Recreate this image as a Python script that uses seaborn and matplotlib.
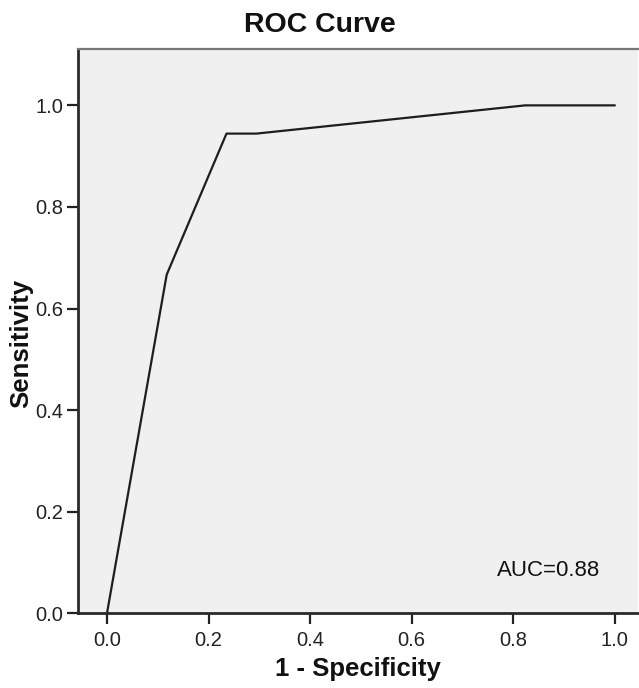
import matplotlib
matplotlib.use("Agg")
import matplotlib.pyplot as plt
import seaborn as sns
import pandas as pd

# ROC points
fpr = [0.0, 0.1176, 0.2353, 0.2941, 0.8235, 1.0]
tpr = [0.0, 0.6667, 0.9444, 0.9444, 1.0, 1.0]
x_ticks = [0.0, 0.2, 0.4, 0.6, 0.8, 1.0]
y_ticks = [0.0, 0.2, 0.4, 0.6, 0.8, 1.0]
title = "ROC Curve"
x_label = "1 - Specificity"
y_label = "Sensitivity"
auc_text = "AUC=0.88"

sns.set_theme(style="white")
plt.rcParams['font.family'] = ['Liberation Sans', 'DejaVu Sans']

df = pd.DataFrame({"fpr": fpr, "tpr": tpr})

fig = plt.figure(figsize=(6.39, 6.88), dpi=100)
ax = fig.add_axes([0.1225, 0.1086, 0.8755, 0.8202])
ax.set_facecolor("#f0f0f0")

sns.lineplot(data=df, x="fpr", y="tpr", ax=ax, color="#1e1e1e", linewidth=1.6,
             sort=False, estimator=None)

ax.set_xlim(-0.0565, 1.045)
ax.set_ylim(0.0, 1.111)
ax.set_xticks(x_ticks)
ax.set_yticks(y_ticks)
ax.set_xticklabels([f"{v:.1f}" for v in x_ticks])
ax.set_yticklabels([f"{v:.1f}" for v in y_ticks])
ax.tick_params(axis="x", direction="out", length=8, width=1.6, colors="#222222",
               labelsize=14.5, pad=5, bottom=True)
ax.tick_params(axis="y", direction="out", length=8, width=1.6, colors="#222222",
               labelsize=14.5, pad=3, left=True)

for side in ["left", "bottom"]:
    ax.spines[side].set_color("#2a2a2a")
    ax.spines[side].set_linewidth(2.0)
ax.spines["top"].set_color("#777777")
ax.spines["top"].set_linewidth(1.6)
ax.spines["right"].set_visible(False)

fig.text(0.5, 0.953, title, fontsize=20.5, fontweight="bold", color="#111111",
         ha="center", va="baseline")
ax.set_xlabel(x_label, fontsize=18.5, fontweight="bold", color="#111111", labelpad=5)
ax.set_ylabel(y_label, fontsize=18.5, fontweight="bold", color="#111111")
ax.yaxis.set_label_coords(-0.081, 0.479)

ax.text(0.768, 0.074, auc_text, fontsize=16, color="#111111",
        ha="left", va="baseline", transform=ax.transData)

fig.savefig("out.png", dpi=100, facecolor="white")
